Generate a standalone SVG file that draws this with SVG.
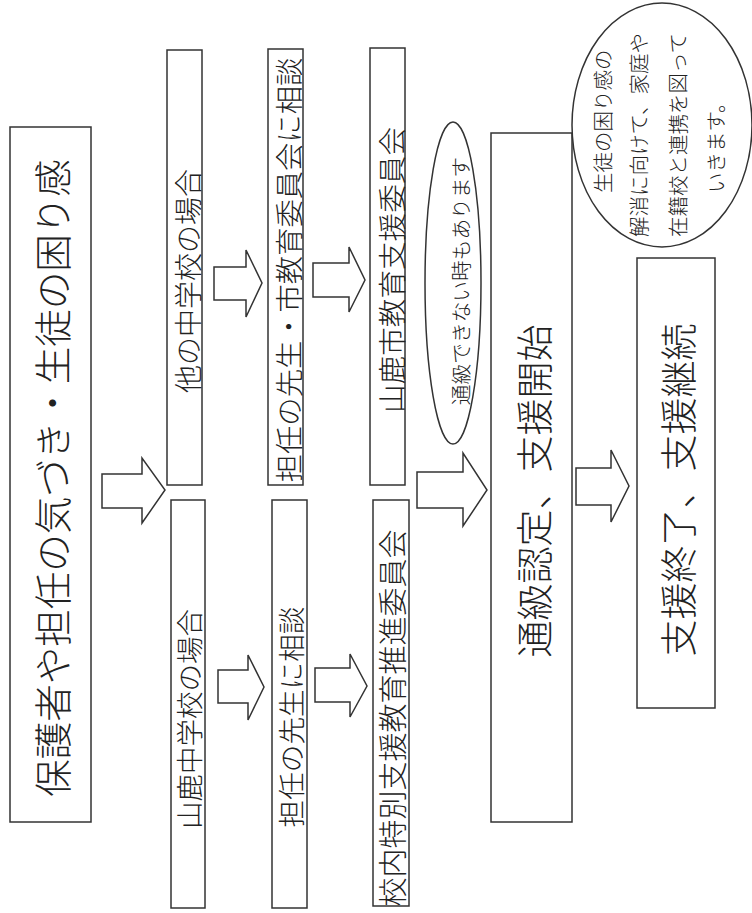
<svg xmlns="http://www.w3.org/2000/svg" width="752" height="913" viewBox="0 0 752 913">
<style>
.box{fill:#fff;stroke:#333;stroke-width:1.5}
.arr{fill:#fff;stroke:#333;stroke-width:1.5;stroke-linejoin:miter}
.t{font-family:"Noto Sans CJK JP","Noto Sans CJK SC",sans-serif;font-weight:300;fill:#222;text-anchor:middle;dominant-baseline:central}
.ts{font-family:"Noto Sans CJK JP","Noto Sans CJK SC",sans-serif;font-weight:300;fill:#222;text-anchor:start;dominant-baseline:central;font-size:20.5px}
</style>
<rect width="752" height="913" fill="#fff"/>
<g id="connectors">
<polygon class="arr" points="102,474 142,474 142,458 165,490 142,523 142,508 102,508"/>
<polygon class="arr" points="214,267 246,267 246,250 262,283 246,317 246,300 214,300"/>
<polygon class="arr" points="313,263 349,263 349,247 365,280 349,312 349,297 313,297"/>
<polygon class="arr" points="218,670 248,670 248,655 264,687 248,720 248,703 218,703"/>
<polygon class="arr" points="315,668 350,668 350,654 367,686 350,717 350,702 315,702"/>
<polygon class="arr" points="417,472 463,472 463,453 487,490 463,526 463,508 417,508"/>
<polygon class="arr" points="576,468 611,468 611,450 629,486 611,522 611,505 576,505"/>
</g>
<g id="start">
<rect class="box" x="10" y="127" width="81" height="695"/>
<text class="t" font-size="37.5" transform="translate(50,478) rotate(-90)">保護者や担任の気づき・生徒の困り感</text>
</g>
<g id="other-school">
<rect class="box" x="167" y="50" width="35" height="435"/>
<text class="t" font-size="28" transform="translate(187,281) rotate(-90)">他の中学校の場合</text>
</g>
<g id="other-consult">
<rect class="box" x="268" y="49" width="35" height="436"/>
<text class="t" font-size="28.3" transform="translate(287,270) rotate(-90)">担任の先生・市教育委員会に相談</text>
</g>
<g id="city-committee">
<rect class="box" x="370" y="48" width="35" height="437"/>
<text class="t" font-size="28.6" transform="translate(390,270) rotate(-90)">山鹿市教育支援委員会</text>
</g>
<g id="own-school">
<rect class="box" x="171" y="500" width="34" height="408"/>
<text class="t" font-size="27.5" transform="translate(188,719) rotate(-90)">山鹿中学校の場合</text>
</g>
<g id="own-consult">
<rect class="box" x="272" y="500" width="35" height="408"/>
<text class="t" font-size="27.6" transform="translate(290,717) rotate(-90)">担任の先生に相談</text>
</g>
<g id="school-committee">
<rect class="box" x="373" y="500" width="36" height="406"/>
<text class="t" font-size="29" transform="translate(391,718) rotate(-90)">校内特別支援教育推進委員会</text>
</g>
<g id="note-small">
<ellipse class="box" cx="453" cy="283" rx="28" ry="161"/>
<text class="t" font-size="20.7" transform="translate(460,281) rotate(-90)">通級できない時もあります</text>
</g>
<g id="support-start">
<rect class="box" x="491" y="133" width="81" height="689"/>
<text class="t" font-size="37" transform="translate(533,491) rotate(-90)">通級認定、支援開始</text>
</g>
<g id="support-end">
<rect class="box" x="637" y="258" width="78" height="450"/>
<text class="t" font-size="37" transform="translate(677,490) rotate(-90)">支援終了、支援継続</text>
</g>
<g id="note-big">
<ellipse class="box" cx="662" cy="125" rx="90" ry="122"/>
<text class="ts" transform="translate(602,193) rotate(-90)">生徒の困り感の</text>
<text class="ts" transform="translate(638,237) rotate(-90)">解消に向けて、家庭や</text>
<text class="ts" transform="translate(677,237) rotate(-90)">在籍校と連携を図って</text>
<text class="ts" transform="translate(715,193) rotate(-90)">いきます。</text>
</g>
</svg>
